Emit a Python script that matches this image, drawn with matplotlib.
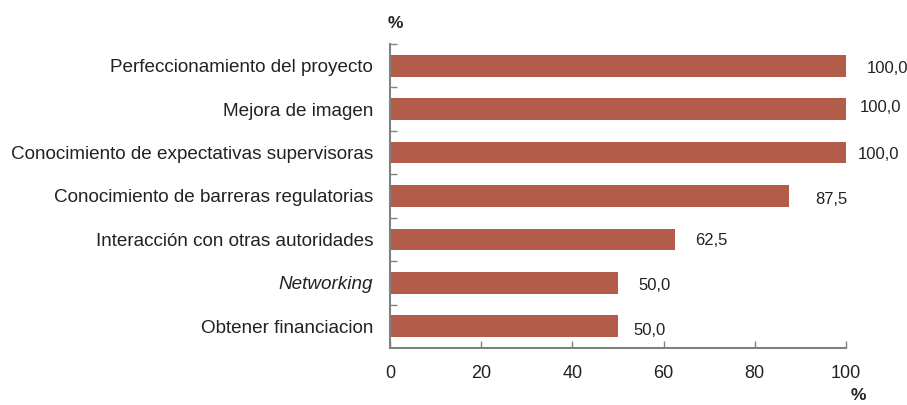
import matplotlib.pyplot as plt

categories = [
    "Perfeccionamiento del proyecto",
    "Mejora de imagen",
    "Conocimiento de expectativas supervisoras",
    "Conocimiento de barreras regulatorias",
    "Interacción con otras autoridades",
    "Networking",
    "Obtener financiacion",
]
values = [100.0, 100.0, 100.0, 87.5, 62.5, 50.0, 50.0]
value_labels = ["100,0", "100,0", "100,0", "87,5", "62,5", "50,0", "50,0"]
x_ticks = [0, 20, 40, 60, 80, 100]

# hand-placed label nudges in the original (pixels right / down of bar end)
label_dx = [21, 14, 12, 26, 20, 20, 15]
label_dy = [3, -2, 2, 4, 1, 3, 4]

plt.rcParams['font.family'] = ['Liberation Sans', 'DejaVu Sans']

bar_color = "#b35c4a"
spine_color = "#7f8283"
text_color = "#222222"

fig = plt.figure(figsize=(9.07, 4.05), dpi=100)
ax = fig.add_axes([390 / 907, 1 - 348 / 405, 456 / 907, 304 / 405])

pos = list(range(len(categories)))
ax.barh(pos, values, height=0.5, color=bar_color, zorder=2)

px = 72 / 100
for p, v, lab, dx, dy in zip(pos, values, value_labels, label_dx, label_dy):
    ax.annotate(lab, (v, p), xytext=(dx * px, -dy * px), textcoords="offset points",
                ha="left", va="center", fontsize=12, color=text_color)

ax.set_xlim(0, 100)
ax.set_ylim(len(categories) - 0.5, -0.5)
ax.set_yticks(pos)
ax.set_yticklabels(categories, fontsize=13.6, color=text_color)
for lab in ax.get_yticklabels():
    if lab.get_text() == "Networking":
        lab.set_style("italic")
ax.set_yticks([p - 0.5 for p in pos], minor=True)
ax.tick_params(axis="y", which="major", length=0, pad=12)
ax.tick_params(axis="y", which="minor", direction="in", length=5, width=1, color=spine_color)

ax.set_xticks(x_ticks)
ax.set_xticklabels([str(t) for t in x_ticks], fontsize=13, color=text_color)
ax.tick_params(axis="x", direction="in", length=5, width=1, color=spine_color, pad=12)

for side in ["top", "right"]:
    ax.spines[side].set_visible(False)
for side in ["left", "bottom"]:
    ax.spines[side].set_color(spine_color)
    ax.spines[side].set_linewidth(1.5)

fig.text(395 / 907, 1 - 23 / 405, "%", fontsize=12.5, fontweight="bold",
         ha="center", va="center", color=text_color)
fig.text(858 / 907, 1 - 396 / 405, "%", fontsize=12.5, fontweight="bold",
         ha="center", va="center", color=text_color)

fig.savefig("out.png", dpi=100)
